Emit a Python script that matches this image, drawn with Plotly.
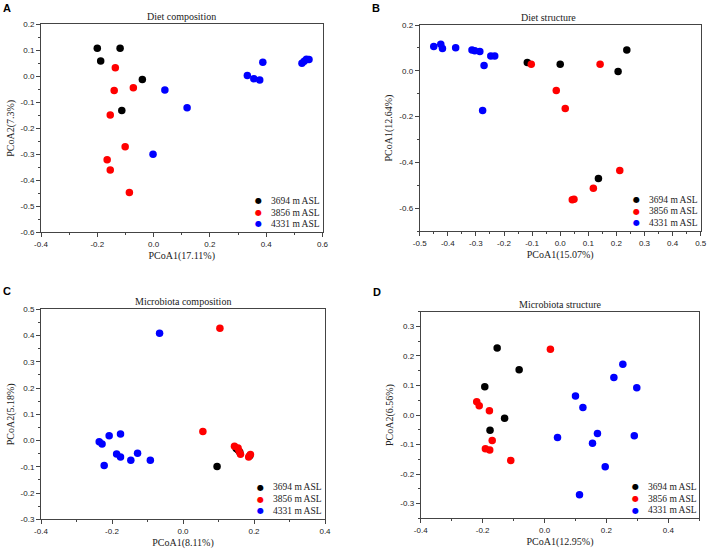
import plotly.graph_objects as go

groups = ["3694 m ASL", "3856 m ASL", "4331 m ASL"]
colors = ["#000000", "#ff0000", "#0000ff"]

# ---------- Panel A: Diet composition ----------
a_x_3694 = [-0.200, -0.119, -0.188, -0.040, -0.113]
a_y_3694 = [0.108, 0.108, 0.059, -0.012, -0.132]
a_x_3856 = [-0.136, -0.072, -0.140, -0.154, -0.101, -0.165, -0.154, -0.086]
a_y_3856 = [0.033, -0.044, -0.055, -0.149, -0.271, -0.321, -0.360, -0.447]
a_x_4331 = [0.040, 0.119, -0.002, 0.333, 0.356, 0.377, 0.388, 0.527, 0.535, 0.543, 0.552]
a_y_4331 = [-0.053, -0.121, -0.300, 0.003, -0.009, -0.014, 0.054, 0.050, 0.058, 0.066, 0.065]

# ---------- Panel B: Diet structure ----------
b_x_3694 = [-0.117, 0.000, 0.136, 0.206, 0.237]
b_y_3694 = [0.036, 0.029, -0.471, -0.003, 0.091]
b_x_3856 = [-0.103, -0.014, 0.018, 0.142, 0.212, 0.118, 0.043, 0.049]
b_y_3856 = [0.029, -0.086, -0.165, 0.029, -0.436, -0.513, -0.564, -0.561]
b_x_4331 = [-0.450, -0.425, -0.419, -0.372, -0.314, -0.304, -0.286, -0.247, -0.233, -0.271, -0.276]
b_y_4331 = [0.106, 0.116, 0.097, 0.101, 0.091, 0.087, 0.084, 0.065, 0.065, 0.023, -0.174]

# ---------- Panel C: Microbiota composition ----------
c_x_3694 = [0.096, 0.150, 0.155, 0.160, 0.188]
c_y_3694 = [-0.099, -0.030, -0.036, -0.045, -0.058]
c_x_3856 = [0.104, 0.056, 0.145, 0.155, 0.158, 0.162, 0.185, 0.190]
c_y_3856 = [0.428, 0.034, -0.022, -0.028, -0.040, -0.052, -0.063, -0.053]
c_x_4331 = [-0.066, -0.236, -0.228, -0.208, -0.176, -0.187, -0.176, -0.147, -0.128, -0.092, -0.222]
c_y_4331 = [0.409, -0.005, -0.013, 0.018, 0.025, -0.051, -0.063, -0.075, -0.048, -0.075, -0.095]

# ---------- Panel D: Microbiota structure ----------
d_x_3694 = [-0.153, -0.082, -0.193, -0.129, -0.176]
d_y_3694 = [0.227, 0.153, 0.096, -0.011, -0.052]
d_x_3856 = [0.019, -0.219, -0.211, -0.178, -0.169, -0.191, -0.177, -0.109]
d_y_3856 = [0.223, 0.045, 0.031, 0.014, -0.086, -0.114, -0.119, -0.154]
d_x_4331 = [0.253, 0.224, 0.298, 0.100, 0.124, 0.171, 0.290, 0.042, 0.155, 0.196, 0.113]
d_y_4331 = [0.172, 0.127, 0.092, 0.064, 0.025, -0.063, -0.070, -0.076, -0.096, -0.175, -0.270]

# ---------- text ----------
panel_titles = ["Diet composition", "Diet structure", "Microbiota composition", "Microbiota structure"]
panel_letters = ["A", "B", "C", "D"]
x_titles = ["PCoA1(17.11%)", "PCoA1(15.07%)", "PCoA1(8.11%)", "PCoA1(12.95%)"]
y_titles = ["PCoA2(7.3%)", "PCoA1(12.64%)", "PCoA2(5.18%)", "PCoA2(6.56%)"]

# ---------- ticks ----------
a_xtick_vals = [-0.4, -0.2, 0.0, 0.2, 0.4, 0.6]
a_xtick_text = ["-0.4", "-0.2", "0.0", "0.2", "0.4", "0.6"]
a_ytick_vals = [-0.6, -0.5, -0.4, -0.3, -0.2, -0.1, 0.0, 0.1, 0.2]
a_ytick_text = ["-0.6", "-0.5", "-0.4", "-0.3", "-0.2", "-0.1", "0.0", "0.1", "0.2"]
b_xtick_vals = [-0.5, -0.4, -0.3, -0.2, -0.1, 0.0, 0.1, 0.2, 0.3, 0.4, 0.5]
b_xtick_text = ["-0.5", "-0.4", "-0.3", "-0.2", "-0.1", "0.0", "0.1", "0.2", "0.3", "0.4", "0.5"]
b_ytick_vals = [-0.6, -0.4, -0.2, 0.0, 0.2]
b_ytick_text = ["-0.6", "-0.4", "-0.2", "0.0", "0.2"]
c_xtick_vals = [-0.4, -0.2, 0.0, 0.2, 0.4]
c_xtick_text = ["-0.4", "-0.2", "0.0", "0.2", "0.4"]
c_ytick_vals = [-0.3, -0.2, -0.1, 0.0, 0.1, 0.2, 0.3, 0.4, 0.5]
c_ytick_text = ["-0.3", "-0.2", "-0.1", "0.0", "0.1", "0.2", "0.3", "0.4", "0.5"]
d_xtick_vals = [-0.4, -0.2, 0.0, 0.2, 0.4]
d_xtick_text = ["-0.4", "-0.2", "0.0", "0.2", "0.4"]
d_ytick_vals = [-0.3, -0.2, -0.1, 0.0, 0.1, 0.2, 0.3]
d_ytick_text = ["-0.3", "-0.2", "-0.1", "0.0", "0.1", "0.2", "0.3"]

W, H = 708, 555

panels = [
    dict(data=[(a_x_3694, a_y_3694), (a_x_3856, a_y_3856), (a_x_4331, a_y_4331)],
         box=(41, 322.5, 24.3, 232.3), xr=[-0.4, 0.6], yr=[-0.6, 0.2],
         xt=(a_xtick_vals, a_xtick_text), yt=(a_ytick_vals, a_ytick_text),
         xminor=0.1, yminor=0.05, letter_xy=(7, 8), title_dx=0),
    dict(data=[(b_x_3694, b_y_3694), (b_x_3856, b_y_3856), (b_x_4331, b_y_4331)],
         box=(419.7, 700.7, 25.0, 231.0), xr=[-0.5, 0.5], yr=[-0.7, 0.2],
         xt=(b_xtick_vals, b_xtick_text), yt=(b_ytick_vals, b_ytick_text),
         xminor=0.05, yminor=0.1, letter_xy=(376, 8), title_dx=-12),
    dict(data=[(c_x_3694, c_y_3694), (c_x_3856, c_y_3856), (c_x_4331, c_y_4331)],
         box=(41, 325, 309.3, 519.3), xr=[-0.4, 0.4], yr=[-0.3, 0.5],
         xt=(c_xtick_vals, c_xtick_text), yt=(c_ytick_vals, c_ytick_text),
         xminor=0.1, yminor=0.05, letter_xy=(7, 291), title_dx=0),
    dict(data=[(d_x_3694, d_y_3694), (d_x_3856, d_y_3856), (d_x_4331, d_y_4331)],
         box=(420.7, 699.3, 311.7, 518.3), xr=[-0.4, 0.5], yr=[-0.35, 0.35],
         xt=(d_xtick_vals, d_xtick_text), yt=(d_ytick_vals, d_ytick_text),
         xminor=0.1, yminor=0.05, letter_xy=(377, 292), title_dx=0),
]

legend_marker_x = 0.772
legend_text_x = 0.812
legend_rows_y = [0.152, 0.095, 0.040]

fig = go.Figure()
annotations = []
axis_color = "#444444"
serif = "Liberation Serif, Times New Roman, serif"
sans = "Liberation Sans, Arial, sans-serif"

layout_axes = {}
for i, p in enumerate(panels):
    n = "" if i == 0 else str(i + 1)
    xa, ya = "x" + n, "y" + n
    for g, (xs, ys) in enumerate(p["data"]):
        fig.add_trace(go.Scatter(
            x=xs, y=ys, mode="markers", name=groups[g], showlegend=False,
            marker=dict(color=colors[g], size=7.5, line=dict(width=0)),
            xaxis=xa, yaxis=ya))
    x0, x1, y0, y1 = p["box"]
    common = dict(showline=True, mirror=True, linecolor=axis_color, linewidth=1,
                  ticks="outside", ticklen=4, tickwidth=1, tickcolor=axis_color,
                  showgrid=False, zeroline=False, automargin=False,
                  tickfont=dict(family=sans, size=8, color="#222222"))
    layout_axes["xaxis" + n] = dict(
        domain=[x0 / W, x1 / W], range=p["xr"], anchor=ya,
        tickmode="array", tickvals=p["xt"][0], ticktext=p["xt"][1],
        minor=dict(dtick=p["xminor"], tick0=0, ticks="outside", ticklen=2,
                   tickcolor=axis_color, showgrid=False),
        title=dict(text=x_titles[i], font=dict(family=serif, size=10, color="#222222"), standoff=4),
        **common)
    layout_axes["yaxis" + n] = dict(
        domain=[1 - y1 / H, 1 - y0 / H], range=p["yr"], anchor=xa,
        tickmode="array", tickvals=p["yt"][0], ticktext=p["yt"][1],
        minor=dict(dtick=p["yminor"], tick0=0, ticks="outside", ticklen=2,
                   tickcolor=axis_color, showgrid=False),
        title=dict(text=y_titles[i], font=dict(family=serif, size=10, color="#222222"), standoff=4),
        **common)
    # panel title
    annotations.append(dict(text=panel_titles[i], xref=xa + " domain", yref=ya + " domain",
                            x=0.5, y=1, xanchor="center", yanchor="bottom", yshift=0,
                            xshift=p["title_dx"], showarrow=False,
                            font=dict(family=serif, size=10, color="#222222")))
    # panel letter
    lx, ly = p["letter_xy"]
    annotations.append(dict(text="<b>" + panel_letters[i] + "</b>", xref="paper", yref="paper",
                            x=lx / W, y=1 - ly / H, xanchor="center", yanchor="middle",
                            showarrow=False, font=dict(family=sans, size=11, color="#000000")))
    # legend
    for g in range(3):
        annotations.append(dict(text="●", xref=xa + " domain", yref=ya + " domain",
                                x=legend_marker_x, y=legend_rows_y[g], xanchor="center",
                                yanchor="middle", showarrow=False, borderpad=0,
                                font=dict(family="DejaVu Sans", size=8, color=colors[g])))
        annotations.append(dict(text=groups[g], xref=xa + " domain", yref=ya + " domain",
                                x=legend_text_x, y=legend_rows_y[g], xanchor="left",
                                yanchor="middle", showarrow=False, borderpad=0,
                                font=dict(family=serif, size=9.5, color="#222222")))

fig.update_layout(
    width=W, height=H, autosize=False,
    margin=dict(l=0, r=0, t=0, b=0),
    paper_bgcolor="white", plot_bgcolor="white",
    annotations=annotations,
    **layout_axes)

fig.write_html("out.html",
               config={"displayModeBar": False},
               post_script="document.body.style.margin='0';document.body.style.overflow='hidden';")
